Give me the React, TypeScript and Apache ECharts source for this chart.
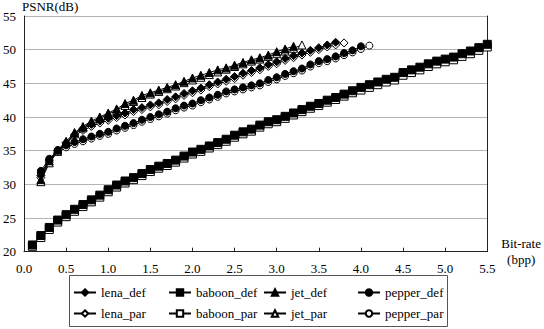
import React, { useEffect, useRef } from "react";
import * as echarts from "echarts";

// Bit-rate grid (bpp)
const rates = [
  0.1, 0.2, 0.3, 0.4, 0.5, 0.6, 0.7, 0.8, 0.9, 1.0,
  1.1, 1.2, 1.3, 1.4, 1.5, 1.6, 1.7, 1.8, 1.9, 2.0,
  2.1, 2.2, 2.3, 2.4, 2.5, 2.6, 2.7, 2.8, 2.9, 3.0,
  3.1, 3.2, 3.3, 3.4, 3.5, 3.6, 3.7, 3.8, 3.9, 4.0,
  4.1, 4.2, 4.3, 4.4, 4.5, 4.6, 4.7, 4.8, 4.9, 5.0,
  5.1, 5.2, 5.3, 5.4, 5.5,
];

// PSNR (dB); baboon starts at 0.1 bpp, the others at 0.2 bpp
const baboonDef = [
  21.0, 22.4, 23.6, 24.7, 25.5, 26.3, 27.0, 27.7, 28.4, 29.2,
  29.9, 30.5, 31.0, 31.6, 32.2, 32.7, 33.1, 33.6, 34.2, 34.8,
  35.2, 35.7, 36.2, 36.7, 37.3, 37.8, 38.2, 38.8, 39.3, 39.6,
  40.1, 40.6, 41.1, 41.6, 42.0, 42.5, 42.9, 43.4, 43.9, 44.4,
  44.8, 45.2, 45.6, 45.9, 46.6, 47.0, 47.4, 47.9, 48.3, 48.6,
  48.9, 49.4, 49.8, 50.3, 50.8,
];
const baboonPar = [
  20.8, 22.1, 23.3, 24.4, 25.2, 26.0, 26.7, 27.4, 28.1, 28.9,
  29.6, 30.2, 30.7, 31.3, 31.9, 32.4, 32.8, 33.3, 33.9, 34.5,
  34.9, 35.4, 35.9, 36.4, 37.0, 37.5, 37.9, 38.5, 39.0, 39.3,
  39.8, 40.3, 40.8, 41.3, 41.7, 42.2, 42.6, 43.1, 43.6, 44.0,
  44.4, 44.8, 45.2, 45.5, 46.2, 46.6, 47.0, 47.5, 47.9, 48.2,
  48.5, 49.0, 49.4, 49.9, 50.4,
];
const lenaDef = [
  31.3, 33.6, 35.0, 36.2, 37.4, 38.3, 38.9, 39.4, 39.8, 40.2,
  40.6, 41.1, 41.4, 41.8, 42.1, 42.6, 43.0, 43.5, 43.9, 44.3,
  44.8, 45.2, 45.6, 46.0, 46.5, 46.9, 47.3, 47.8, 48.2, 48.7,
  49.1, 49.5, 49.9, 50.3, 50.7, 51.1,
];
const lenaPar = [
  31.0, 33.3, 34.8, 36.0, 37.2, 38.0, 38.6, 39.1, 39.5, 39.9,
  40.3, 40.8, 41.1, 41.5, 41.8, 42.3, 42.7, 43.2, 43.6, 44.0,
  44.5, 44.9, 45.3, 45.7, 46.2, 46.6, 47.0, 47.5, 47.9, 48.4,
  48.8, 49.2, 49.6, 50.0, 50.4, 50.7, 51.0,
];
const jetDef = [
  30.7, 33.5, 35.1, 36.4, 37.7, 38.6, 39.4, 40.0, 40.6, 41.2,
  42.0, 42.5, 43.2, 43.6, 44.0, 44.4, 44.8, 45.3, 45.8, 46.2,
  46.6, 47.0, 47.3, 47.7, 48.1, 48.5, 48.8, 49.2, 49.7, 50.1,
  50.5,
];
const jetPar = [
  30.4, 33.2, 34.9, 36.2, 37.5, 38.4, 39.2, 39.8, 40.4, 41.0,
  41.7, 42.3, 42.9, 43.4, 43.8, 44.2, 44.6, 45.1, 45.5, 45.9,
  46.3, 46.7, 47.1, 47.5, 47.9, 48.3, 48.6, 49.0, 49.4, 49.8,
  50.2, 50.7,
];
const pepperDef = [
  32.0, 33.8, 35.1, 35.8, 36.3, 36.7, 37.1, 37.5, 37.8, 38.3,
  38.7, 39.1, 39.6, 40.0, 40.4, 40.8, 41.3, 41.7, 42.0, 42.5,
  42.9, 43.3, 43.8, 44.1, 44.4, 44.7, 45.0, 45.5, 45.9, 46.4,
  46.8, 47.2, 47.8, 48.3, 48.6, 49.0, 49.5, 49.9, 50.5,
];
const pepperPar = [
  31.7, 33.5, 34.8, 35.5, 36.0, 36.4, 36.8, 37.2, 37.5, 38.0,
  38.4, 38.8, 39.3, 39.7, 40.1, 40.5, 41.0, 41.4, 41.7, 42.2,
  42.6, 43.0, 43.5, 43.8, 44.1, 44.4, 44.7, 45.2, 45.6, 46.1,
  46.5, 46.9, 47.5, 48.0, 48.3, 48.7, 49.2, 49.6, 50.1, 50.6,
];

const xTicks = { min: 0, max: 5.5, interval: 0.5 };
const yTicks = { min: 20, max: 55, interval: 5 };

const FONT = "serif";

function line(
  name: string,
  ys: number[],
  startIndex: number,
  symbol: string,
  filled: boolean,
  size: number
) {
  return {
    name,
    type: "line",
    data: ys.map((y, i) => [rates[i + startIndex], y]),
    symbol,
    symbolSize: size,
    showSymbol: true,
    z: filled ? 4 : 3,
    lineStyle: { color: "#000", width: 1 },
    itemStyle: filled
      ? { color: "#000", borderColor: "#000", borderWidth: 1 }
      : { color: "#fff", borderColor: "#000", borderWidth: 1 },
    emphasis: { disabled: true },
  };
}

const legendCols = [
  { x: 73, names: ["lena_def", "lena_par"] },
  { x: 168, names: ["baboon_def", "baboon_par"] },
  { x: 263, names: ["jet_def", "jet_par"] },
  { x: 357, names: ["pepper_def", "pepper_par"] },
];

export default function App() {
  const ref = useRef<HTMLDivElement>(null);
  useEffect(() => {
    const chart = echarts.init(ref.current!, null, { renderer: "svg" });
    const option: any = {
      animation: false,
      backgroundColor: "#fff",
      textStyle: { fontFamily: FONT, color: "#000" },
      grid: { left: 22, top: 14.4, right: 53.3, bottom: 77.3, containLabel: false },
      xAxis: {
        type: "value",
        ...xTicks,
        name: "Bit-rate\n(bpp)",
        nameLocation: "end",
        nameGap: 23,
        nameTextStyle: {
          fontFamily: FONT,
          fontSize: 13,
          color: "#000",
          align: "center",
          verticalAlign: "middle",
          lineHeight: 16,
          padding: [0, 0, 6, 0],
        },
        axisLine: { show: true, lineStyle: { color: "#222", width: 1 } },
        axisTick: { show: true, inside: true, length: 4, lineStyle: { color: "#222" } },
        axisLabel: {
          fontFamily: FONT,
          fontSize: 13,
          color: "#000",
          margin: 10,
          formatter: (v: number) => v.toFixed(1),
        },
        splitLine: { show: false },
      },
      yAxis: [
        {
          type: "value",
          ...yTicks,
          name: "PSNR(dB)",
          nameLocation: "end",
          nameGap: 3,
          nameTextStyle: {
            fontFamily: FONT,
            fontSize: 13,
            color: "#000",
            align: "left",
            padding: [0, 0, 0, -2],
          },
          axisLine: { show: true, lineStyle: { color: "#222", width: 1 } },
          axisTick: { show: false },
          axisLabel: { fontFamily: FONT, fontSize: 13, color: "#000", margin: 8 },
          splitLine: { show: true, lineStyle: { color: "#b4b4b4", width: 1 } },
        },
        {
          type: "value",
          ...yTicks,
          position: "right",
          axisLine: { show: true, onZero: false, lineStyle: { color: "#222", width: 1 } },
          axisTick: { show: false },
          axisLabel: { show: false },
          splitLine: { show: false },
        },
      ],
      legend: legendCols.map((c) => ({
        data: c.names,
        orient: "vertical",
        left: c.x,
        top: 286,
        itemGap: 8,
        itemWidth: 22,
        itemHeight: 8,
        padding: 0,
        selectedMode: false,
        textStyle: { fontFamily: FONT, fontSize: 13, color: "#000" },
      })),
      graphic: [
        {
          type: "rect",
          shape: { x: 69.5, y: 275.5, width: 378, height: 51 },
          style: { fill: "none", stroke: "#555", lineWidth: 1 },
          silent: true,
        },
      ],
      series: [
        line("lena_par", lenaPar, 1, "diamond", false, 8),
        line("baboon_par", baboonPar, 0, "rect", false, 8),
        line("jet_par", jetPar, 1, "triangle", false, 8),
        line("pepper_par", pepperPar, 1, "circle", false, 7),
        line("lena_def", lenaDef, 1, "diamond", true, 8),
        line("baboon_def", baboonDef, 0, "rect", true, 8),
        line("jet_def", jetDef, 1, "triangle", true, 8),
        line("pepper_def", pepperDef, 1, "circle", true, 7),
      ],
    };
    chart.setOption(option);
    return () => chart.dispose();
  }, []);
  return (
    <div
      ref={ref}
      style={{ position: "absolute", left: 0, top: 0, width: 544, height: 329 }}
    />
  );
}
